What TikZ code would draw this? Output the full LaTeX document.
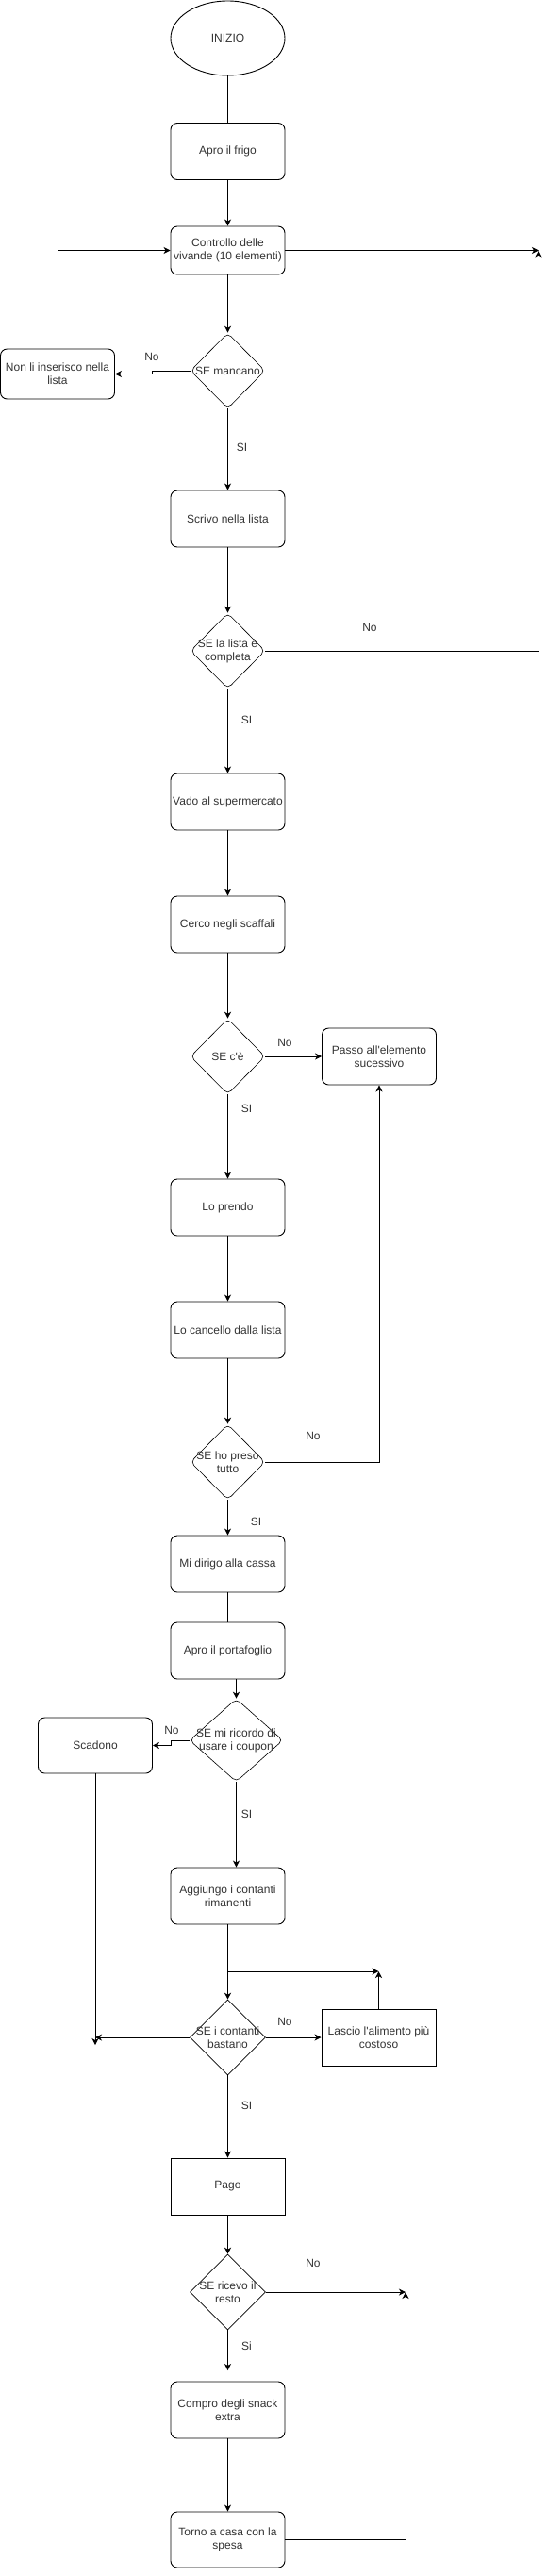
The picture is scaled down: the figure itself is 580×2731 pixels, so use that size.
\documentclass[tikz,border=0pt]{standalone}
\usepackage{fontspec}
\setmainfont{Liberation Sans}
\usetikzlibrary{shapes.geometric,arrows.meta}
\definecolor{txtc}{HTML}{333333}
\begin{document}
\begin{tikzpicture}[x=1pt,y=-1pt,
  every node/.style={font=\fontsize{12}{14}\selectfont, text=txtc, align=center, inner sep=0pt},
  box/.style={draw, rounded corners=7pt, minimum width=121pt, minimum height=60pt, line width=0.9pt},
  sbox/.style={draw, minimum width=121pt, minimum height=60pt, line width=0.9pt},
  dia/.style={draw, diamond, rounded corners=5pt, minimum width=79pt, minimum height=80pt, line width=0.6pt},
  sdia/.style={draw, diamond, minimum width=80pt, minimum height=80pt, line width=0.6pt},
  arr/.style={-{Stealth[length=7pt,width=7pt,inset=2pt]}, line width=0.9pt},
  ln/.style={line width=0.9pt}]
\useasboundingbox (0,0) rectangle (580,2731);

% nodes
\node[draw, ellipse, minimum width=121pt, minimum height=79pt, line width=0.9pt] (inizio) at (241.5,40.5) {INIZIO};
\node[box] (apro) at (241.5,160.5) {Apro il frigo};
\node[box, minimum height=51pt] (controllo) at (241.5,265.5) {Controllo delle\\vivande (10 elementi)};
\node[dia, label={[name=tmanc]center:{SE mancano}}] (mancano) at (241.5,393) {};
\node[box, minimum height=53pt] (nonli) at (61,396.5) {Non li inserisco nella\\lista};
\node[box] (scrivo) at (241.5,550) {Scrivo nella lista};
\node[dia, label={[name=tcomp]center:{SE la lista è\\completa}}] (completa) at (241.5,690) {};
\node[box] (vado) at (241.5,850) {Vado al supermercato};
\node[box] (cerco) at (241.5,980) {Cerco negli scaffali};
\node[dia, label={[name=tce]center:{SE c\textquotesingle è}}] (ce) at (241.5,1120) {};
\node[box] (passo) at (402,1120) {Passo all\textquotesingle elemento\\sucessivo};
\node[box] (prendo) at (241.5,1280) {Lo prendo};
\node[box] (cancello) at (241.5,1410) {Lo cancello dalla lista};
\node[dia, label={[name=tpreso]center:{SE ho preso\\tutto}}] (preso) at (241.5,1550) {};
\node[box] (dirigo) at (241.5,1658) {Mi dirigo alla cassa};
\node[box] (portafoglio) at (241.5,1750) {Apro il portafoglio};
\node[dia, minimum width=99pt, minimum height=88pt, label={[name=tcoup]center:{SE mi ricordo di\\usare i coupon}}] (coupon) at (250.5,1845) {};
\node[box, minimum height=59pt] (scadono) at (101,1850.5) {Scadono};
\node[box] (aggiungo) at (241.5,2010) {Aggiungo i contanti\\rimanenti};
\node[sdia, label={[name=tcont]center:{SE i contanti\\bastano}}] (contanti) at (241.5,2160) {};
\node[sbox] (lascio) at (401.5,2160) {Lascio l\textquotesingle alimento più\\costoso};
\node[sbox] (pago) at (241.5,2318) {Pago};
\node[sdia, label={[name=tresto]center:{SE ricevo il\\resto}}] (resto) at (241.5,2430) {};
\node[box] (compro) at (241.5,2555) {Compro degli snack\\extra};
\node[box, minimum height=59pt] (torno) at (241.5,2692.5) {Torno a casa con la\\spesa};

% helper coordinates
\coordinate (c1) at (571,265.5);
\coordinate (c2) at (401.5,2090);
\coordinate (c3) at (101,2160);
\coordinate (c3b) at (101,2168);
\coordinate (c4) at (430,2430);
\coordinate (c5) at (241.5,2513);

% connectors
\draw[ln] (inizio) -- (apro);
\draw[arr] (apro) -- (controllo);
\draw[arr] (controllo.east) -- (c1);
\draw[arr] (controllo) -- (mancano);
\draw[arr] (mancano.west) -- (161,393) -- (161,396.5) -- (nonli.east);
\draw[arr] (nonli.north) |- (controllo.west);
\draw[arr] (mancano) -- (scrivo);
\draw[arr] (scrivo) -- (completa);
\draw[arr] (completa.east) -| (c1);
\draw[arr] (completa) -- (vado);
\draw[arr] (vado) -- (cerco);
\draw[arr] (cerco) -- (ce);
\draw[arr] (ce.east) -- (passo.west);
\draw[arr] (ce) -- (prendo);
\draw[arr] (prendo) -- (cancello);
\draw[arr] (cancello) -- (preso);
\draw[arr] (preso.east) -| (passo.south);
\draw[arr] (preso) -- (dirigo);
\draw[ln] (dirigo) -- (portafoglio);
\draw[arr] (portafoglio.south -| coupon.north) -- (coupon.north);
\draw[arr] (coupon.west) -- (181,1845) -- (181,1850.5) -- (scadono.east);
\draw[arr] (coupon.south) -- (coupon.south |- aggiungo.north);
\draw[arr] (aggiungo) -- (contanti);
\draw[arr] (aggiungo.south |- c2) -- (c2);
\draw[arr] (lascio.north) -- (c2);
\draw[arr] (contanti.east) -- (lascio.west);
\draw[arr] (contanti.west) -- (c3);
\draw[arr] (scadono.south) -- (c3b);
\draw[arr] (contanti) -- (pago);
\draw[arr] (pago) -- (resto);
\draw[arr] (resto.east) -- (c4);
\draw[arr] (torno.east) -| (c4);
\draw[arr] (resto.south) -- (c5);
\draw[arr] (compro) -- (torno);

% edge labels
\node (l1) at (161,378) {No};
\node (l2) at (256.5,474) {SI};
\node (l3) at (392,665) {No};
\node (l4) at (261.5,763) {SI};
\node (l5) at (302,1105) {No};
\node (l6) at (261.5,1175) {SI};
\node (l7) at (332,1522) {No};
\node (l8) at (271.5,1613) {SI};
\node (l9) at (182,1834) {No};
\node (l10) at (261.5,1923) {SI};
\node (l11) at (302,2143) {No};
\node (l12) at (261.5,2232) {SI};
\node (l13) at (332,2399) {No};
\node (l14) at (261.5,2487) {Si};
\end{tikzpicture}
\end{document}
